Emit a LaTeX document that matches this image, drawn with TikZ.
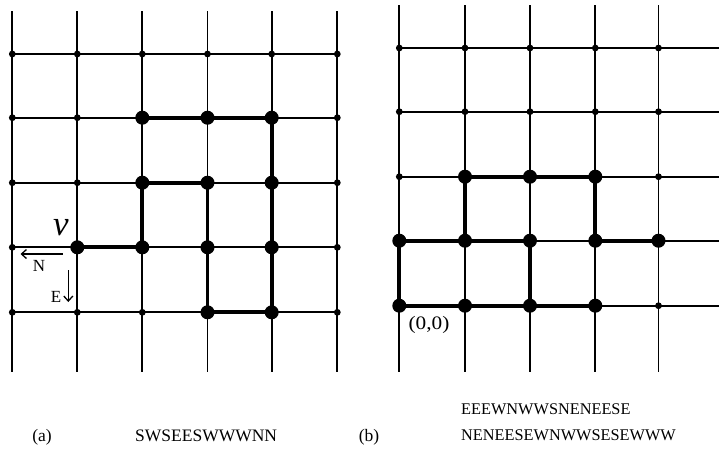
\documentclass[tikz,border=0pt]{standalone}
\usepackage{fontspec}
\setmainfont{Liberation Serif}
\usetikzlibrary{arrows.meta}
\begin{document}
\begin{tikzpicture}[x=1pt,y=-1pt,
  gridline/.style={line width=1.7pt},
  pathline/.style={line width=3.9pt,line join=round},
  sdot/.style={circle,fill=black,inner sep=0pt,minimum size=6.8pt},
  bdot/.style={circle,fill=black,inner sep=0pt,minimum size=14pt},
  dirarrow/.style={line width=1.3pt,-{Straight Barb[length=5pt,width=9pt]}},
  lbl/.style={inner sep=0pt,font=\fontsize{17.5}{17.5}\selectfont},
  rlbl/.style={inner sep=0pt,font=\fontsize{16.3}{16.3}\selectfont},
  small/.style={inner sep=0pt,font=\fontsize{17}{17}\selectfont}]
\useasboundingbox (0,0) rectangle (719,448);
% ---------- left grid ----------
\foreach \x [count=\i] in {12.3,77.3,142.3,207.5,271.7,337.3} {
  \coordinate (lt\i) at (\x,11);
  \coordinate (lb\i) at (\x,372);
  \foreach \y [count=\j] in {54,117.7,182.7,247.3,312.3}
    \coordinate (l\i-\j) at (\x,\y);
}
\foreach \i in {1,...,6} \draw[gridline] (lt\i) -- (lb\i);
\foreach \j in {1,...,5} \draw[gridline] (l1-\j) -- (l6-\j);
\draw[pathline] (l2-4) -- (l3-4) -- (l3-3) -- (l4-3) -- (l4-5) -- (l5-5) -- (l5-2) -- (l3-2);
\foreach \p in {1-1,2-1,3-1,4-1,5-1,6-1,1-2,2-2,6-2,1-3,2-3,6-3,1-4,6-4,1-5,2-5,3-5,6-5}
  \node[sdot] (dl\p) at (l\p) {};
\foreach \p in {3-2,4-2,5-2,3-3,4-3,5-3,2-4,3-4,4-4,5-4,4-5,5-5}
  \node[bdot] (dl\p) at (l\p) {};
\node[inner sep=0pt,font=\fontsize{35}{35}\selectfont\itshape] (vlab) at (61,227.5) {v};
\coordinate (na) at (62.5,254);
\coordinate (nb) at (20.5,254);
\draw[dirarrow] (na) -- (nb);
\node[small] (nlab) at (39,266) {N};
\coordinate (ea) at (68.3,270);
\coordinate (eb) at (68.3,302);
\draw[dirarrow] (ea) -- (eb);
\node[small] (elab) at (56,296.5) {E};
% ---------- right grid ----------
\foreach \x [count=\i] in {399.3,465,530,595.3,658.5} {
  \coordinate (rt\i) at (\x,5);
  \coordinate (rb\i) at (\x,372);
  \foreach \y [count=\j] in {48,111.7,176.7,240.7,305.7}
    \coordinate (r\i-\j) at (\x,\y);
}
\foreach \y [count=\j] in {48,111.7,176.7,240.7,305.7}
  \coordinate (re\j) at (719,\y);
\foreach \i in {1,...,5} \draw[gridline] (rt\i) -- (rb\i);
\foreach \j in {1,...,5} \draw[gridline] (r1-\j) -- (re\j);
\draw[pathline] (r2-4) -- (r2-3) -- (r4-3) -- (r4-4) -- (r5-4);
\draw[pathline] (r3-5) -- (r3-4) -- (r1-4) -- (r1-5) -- (r4-5);
\foreach \p in {1-1,2-1,3-1,4-1,5-1,1-2,2-2,3-2,4-2,5-2,1-3,5-3,5-5}
  \node[sdot] (dr\p) at (r\p) {};
\foreach \p in {2-3,3-3,4-3,1-4,2-4,3-4,4-4,5-4,1-5,2-5,3-5,4-5}
  \node[bdot] (dr\p) at (r\p) {};
\node[inner sep=0pt,font=\fontsize{19}{19}\selectfont,xscale=1.12] (orig) at (429,325) {(0,0)};
% ---------- captions ----------
\node[lbl,anchor=base] (capa) at (42,441) {(a)};
\node[lbl,anchor=base west] (worda) at (135,441) {SWSEESWWWNN};
\node[lbl,anchor=base] (capb) at (369,441) {(b)};
\node[rlbl,anchor=base west] (wordb1) at (461,414) {EEEWNWWSNENEESE};
\node[rlbl,anchor=base west] (wordb2) at (461,440) {NENEESEWNWWSESEWWW};
\end{tikzpicture}
\end{document}
